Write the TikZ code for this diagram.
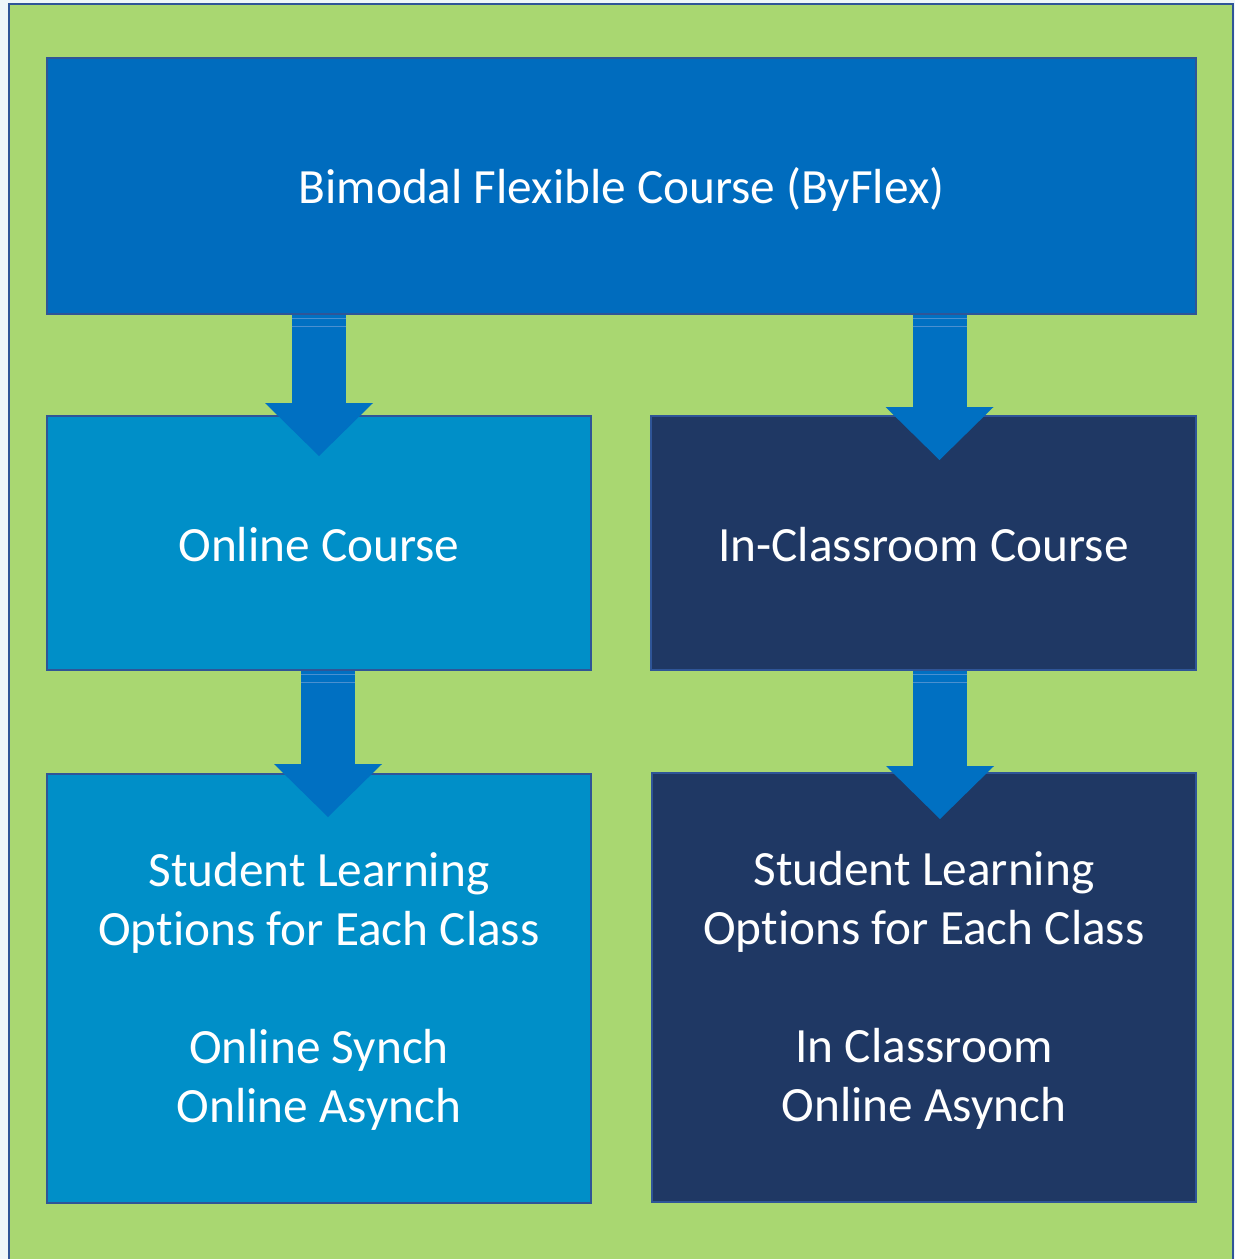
\documentclass[tikz,border=0pt]{standalone}
\usepackage{fontspec}
\setmainfont{Carlito}[Ligatures={NoCommon}]
\usetikzlibrary{arrows.meta,calc}
\definecolor{bgout}{HTML}{EEF6F9}
\definecolor{green}{HTML}{A9D771}
\definecolor{frame}{HTML}{2F5597}
\definecolor{topblue}{HTML}{006CBE}
\definecolor{midblue}{HTML}{008FC8}
\definecolor{navy}{HTML}{1F3864}
\definecolor{arrowc}{HTML}{0070C2}
\definecolor{shaftline}{HTML}{4A90D0}
\begin{document}
\begin{tikzpicture}[x=1pt,y=-1pt,
  box/.style={draw=frame, line width=2pt, inner sep=0pt},
  lbl/.style={text=white, align=center, inner sep=0pt,
    font=\fontsize{49.3}{59}\selectfont},
  blk/.style={draw=arrowc, line width=54pt,
    -{Triangle[width=108pt,length=53pt,line width=0pt]}},
  sline/.style={draw=shaftline, line width=1pt}]
\useasboundingbox (0,0) rectangle (1235,1259);
\fill[bgout] (0,0) rectangle (1235,1259);
\draw[fill=green, draw=frame, line width=2pt] (9,4) rectangle (1233,1275);

\node[box, fill=topblue, minimum width=1149pt, minimum height=256pt] (top) at (621.5,186) {};
\node[box, fill=midblue, minimum width=544pt, minimum height=254pt] (online) at (319,543) {};
\node[box, fill=navy, minimum width=545pt, minimum height=254pt] (inclass) at (923.5,543) {};
\node[box, fill=midblue, minimum width=544pt, minimum height=429pt] (sl) at (319,988.5) {};
\node[box, fill=navy, minimum width=544pt, minimum height=429pt] (sr) at (924,987.5) {};

\node[lbl] (toptxt) at ([yshift=-3pt]top.center) {Bimodal Flexible Course (ByFlex)};
\node[lbl] (onlinetxt) at ([yshift=-2pt]online.center) {Online Course};
\node[lbl] (inclasstxt) at ([yshift=-2pt]inclass.center) {In-Classroom Course};
\node[lbl] (sltxt) at ([yshift=-3pt]sl.center)
  {Student Learning\\Options for Each Class\\[59pt]Online Synch\\Online Asynch};
\node[lbl] (srtxt) at ([yshift=-3pt]sr.center)
  {Student Learning\\Options for Each Class\\[59pt]In Classroom\\Online Asynch};

% block arrows
\coordinate (a1e) at ([yshift=-41pt]online.north);
\coordinate (a1s) at (top.south -| a1e);
\draw[blk] (a1s) -- (a1e);
\coordinate (a2e) at ([xshift=16pt,yshift=-45pt]inclass.north);
\coordinate (a2s) at (top.south -| a2e);
\draw[blk] (a2s) -- (a2e);
\coordinate (a3e) at ([xshift=9pt,yshift=-44pt]sl.north);
\coordinate (a3s) at (online.south -| a3e);
\draw[blk] (a3s) -- (a3e);
\coordinate (a4e) at ([xshift=16pt,yshift=-47pt]sr.north);
\coordinate (a4s) at (inclass.south -| a4e);
\draw[blk] (a4s) -- (a4e);

% faint lines across the shafts
\foreach \s in {a1s,a2s,a3s,a4s}{
  \draw[sline] ([xshift=-27pt,yshift=-3pt]\s) -- ++(54pt,0);
  \draw[sline] ([xshift=-27pt,yshift=-11pt]\s) -- ++(54pt,0);
}
\end{tikzpicture}
\end{document}
